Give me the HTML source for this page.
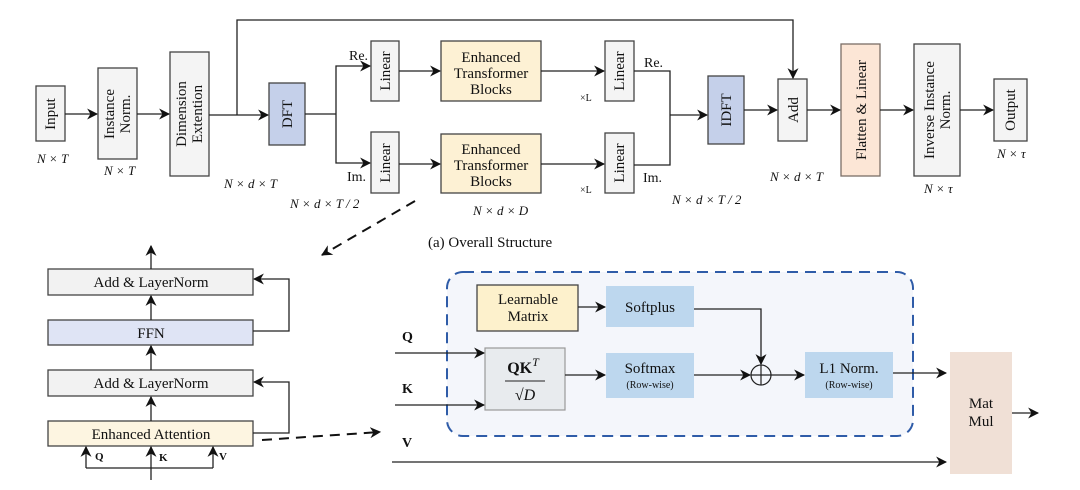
<!DOCTYPE html>
<html><head><meta charset="utf-8"><style>
html,body{margin:0;padding:0;background:#fff}
svg{display:block}
text{font-family:"Liberation Serif",serif;fill:#111}
.b{stroke:#444;stroke-width:1.3}
.l{stroke:#222;stroke-width:1.3;fill:none}
.it{font-style:italic;font-size:13px}
</style></head><body>
<svg width="1080" height="490" viewBox="0 0 1080 490" xmlns="http://www.w3.org/2000/svg">
<defs>
<marker id="a" viewBox="0 0 10 10" refX="9" refY="5" markerWidth="11" markerHeight="11" orient="auto" markerUnits="userSpaceOnUse"><path d="M0,0 L10,5 L0,10 L3,5 z" fill="#111"/></marker>
</defs>

<rect x="36" y="86" width="29" height="55" fill="#f4f4f4" class="b"/>
<text transform="translate(55,114) rotate(-90)" text-anchor="middle" font-size="15">Input</text>
<rect x="98" y="68" width="39" height="91" fill="#f4f4f4" class="b"/>
<text transform="translate(114,114) rotate(-90)" text-anchor="middle" font-size="15">Instance</text>
<text transform="translate(130,114) rotate(-90)" text-anchor="middle" font-size="15">Norm.</text>
<rect x="170" y="52" width="39" height="124" fill="#f4f4f4" class="b"/>
<text transform="translate(186,114) rotate(-90)" text-anchor="middle" font-size="15">Dimension</text>
<text transform="translate(202,114) rotate(-90)" text-anchor="middle" font-size="15">Extention</text>
<rect x="269" y="83" width="36" height="62" fill="#c5d0ea" class="b"/>
<text transform="translate(292,114) rotate(-90)" text-anchor="middle" font-size="15">DFT</text>

<rect x="371" y="41" width="28" height="60" fill="#f4f4f4" class="b"/>
<text transform="translate(390,71) rotate(-90)" text-anchor="middle" font-size="15">Linear</text>
<rect x="371" y="132" width="28" height="61" fill="#f4f4f4" class="b"/>
<text transform="translate(390,163) rotate(-90)" text-anchor="middle" font-size="15">Linear</text>

<rect x="441" y="41" width="100" height="60" fill="#fdf1d4" class="b"/>
<text x="491" y="62" text-anchor="middle" font-size="15">Enhanced</text>
<text x="491" y="78" text-anchor="middle" font-size="15">Transformer</text>
<text x="491" y="94" text-anchor="middle" font-size="15">Blocks</text>
<rect x="441" y="134" width="100" height="59" fill="#fdf1d4" class="b"/>
<text x="491" y="154" text-anchor="middle" font-size="15">Enhanced</text>
<text x="491" y="170" text-anchor="middle" font-size="15">Transformer</text>
<text x="491" y="186" text-anchor="middle" font-size="15">Blocks</text>
<text x="580" y="101" font-size="10">×L</text>
<text x="580" y="193" font-size="10">×L</text>

<rect x="605" y="41" width="29" height="60" fill="#f4f4f4" class="b"/>
<text transform="translate(624,71) rotate(-90)" text-anchor="middle" font-size="15">Linear</text>
<rect x="605" y="133" width="29" height="60" fill="#f4f4f4" class="b"/>
<text transform="translate(624,163) rotate(-90)" text-anchor="middle" font-size="15">Linear</text>

<rect x="708" y="76" width="36" height="68" fill="#c5d0ea" class="b"/>
<text transform="translate(731,110) rotate(-90)" text-anchor="middle" font-size="15">IDFT</text>
<rect x="778" y="79" width="29" height="62" fill="#f4f4f4" class="b"/>
<text transform="translate(798,110) rotate(-90)" text-anchor="middle" font-size="15">Add</text>
<rect x="841" y="44" width="39" height="132" fill="#fce6d6" stroke="#7a6e66" stroke-width="1.3"/>
<text transform="translate(866,110) rotate(-90)" text-anchor="middle" font-size="15">Flatten &amp; Linear</text>
<rect x="914" y="44" width="46" height="132" fill="#f4f4f4" class="b"/>
<text transform="translate(934,110) rotate(-90)" text-anchor="middle" font-size="15">Inverse Instance</text>
<text transform="translate(950,110) rotate(-90)" text-anchor="middle" font-size="15">Norm.</text>
<rect x="994" y="79" width="33" height="62" fill="#f4f4f4" class="b"/>
<text transform="translate(1015,110) rotate(-90)" text-anchor="middle" font-size="15">Output</text>

<line x1="65" y1="114" x2="97" y2="114" class="l" marker-end="url(#a)"/>
<line x1="137" y1="114" x2="169" y2="114" class="l" marker-end="url(#a)"/>
<line x1="209" y1="115" x2="268" y2="115" class="l" marker-end="url(#a)"/>
<polyline points="237,115 237,20 793,20 793,78" class="l" marker-end="url(#a)"/>
<line x1="305" y1="114" x2="336" y2="114" class="l"/>
<polyline points="336,114 336,66 370,66" class="l" marker-end="url(#a)"/>
<polyline points="336,114 336,163 370,163" class="l" marker-end="url(#a)"/>
<line x1="399" y1="71" x2="440" y2="71" class="l" marker-end="url(#a)"/>
<line x1="399" y1="164" x2="440" y2="164" class="l" marker-end="url(#a)"/>
<line x1="541" y1="71" x2="604" y2="71" class="l" marker-end="url(#a)"/>
<line x1="541" y1="164" x2="604" y2="164" class="l" marker-end="url(#a)"/>
<polyline points="634,71 670,71 670,165 634,165" class="l"/>
<line x1="670" y1="115" x2="707" y2="115" class="l" marker-end="url(#a)"/>
<line x1="744" y1="110" x2="777" y2="110" class="l" marker-end="url(#a)"/>
<line x1="807" y1="110" x2="840" y2="110" class="l" marker-end="url(#a)"/>
<line x1="880" y1="110" x2="913" y2="110" class="l" marker-end="url(#a)"/>
<line x1="960" y1="110" x2="993" y2="110" class="l" marker-end="url(#a)"/>

<text x="349" y="60" font-size="14">Re.</text>
<text x="347" y="181" font-size="14">Im.</text>
<text x="644" y="67" font-size="14">Re.</text>
<text x="643" y="182" font-size="14">Im.</text>

<text x="37" y="163" class="it">N × T</text>
<text x="104" y="175" class="it">N × T</text>
<text x="224" y="188" class="it">N × d × T</text>
<text x="290" y="208" class="it">N × d × T / 2</text>
<text x="473" y="215" class="it">N × d × D</text>
<text x="672" y="204" class="it">N × d × T / 2</text>
<text x="770" y="181" class="it">N × d × T</text>
<text x="924" y="193" class="it">N × τ</text>
<text x="997" y="158" class="it">N × τ</text>
<text x="428" y="247" font-size="15">(a) Overall Structure</text>

<line x1="415" y1="201" x2="322" y2="255" stroke="#111" stroke-width="2" stroke-dasharray="10,7" marker-end="url(#a)"/>
<line x1="262" y1="440" x2="380" y2="432" stroke="#111" stroke-width="2" stroke-dasharray="10,7" marker-end="url(#a)"/>

<rect x="48" y="269" width="205" height="26" fill="#f2f2f2" class="b"/>
<text x="151" y="287" text-anchor="middle" font-size="15">Add &amp; LayerNorm</text>
<rect x="48" y="320" width="205" height="25" fill="#dfe4f5" class="b"/>
<text x="151" y="338" text-anchor="middle" font-size="15">FFN</text>
<rect x="48" y="370" width="205" height="26" fill="#f2f2f2" class="b"/>
<text x="151" y="388" text-anchor="middle" font-size="15">Add &amp; LayerNorm</text>
<rect x="48" y="421" width="205" height="25" fill="#fdf5e1" class="b"/>
<text x="151" y="439" text-anchor="middle" font-size="15">Enhanced Attention</text>
<line x1="151" y1="269" x2="151" y2="246" class="l" marker-end="url(#a)"/>
<line x1="151" y1="320" x2="151" y2="296" class="l" marker-end="url(#a)"/>
<line x1="151" y1="370" x2="151" y2="346" class="l" marker-end="url(#a)"/>
<line x1="151" y1="421" x2="151" y2="397" class="l" marker-end="url(#a)"/>
<polyline points="253,331 289,331 289,279 254,279" class="l" marker-end="url(#a)"/>
<polyline points="253,433 289,433 289,382 254,382" class="l" marker-end="url(#a)"/>
<polyline points="86,468 213,468" class="l"/>
<line x1="151" y1="480" x2="151" y2="447" class="l" marker-end="url(#a)"/>
<line x1="86" y1="468" x2="86" y2="447" class="l" marker-end="url(#a)"/>
<line x1="213" y1="468" x2="213" y2="447" class="l" marker-end="url(#a)"/>
<text x="95" y="460" font-size="11" font-weight="bold">Q</text>
<text x="159" y="461" font-size="11" font-weight="bold">K</text>
<text x="219" y="460" font-size="11" font-weight="bold">V</text>

<rect x="447" y="272" width="466" height="164" rx="16" fill="#f4f6fb" stroke="#2f5ca8" stroke-width="2" stroke-dasharray="11,7"/>
<rect x="477" y="285" width="101" height="46" fill="#fdf1cc" class="b"/>
<text x="528" y="304" text-anchor="middle" font-size="15">Learnable</text>
<text x="528" y="321" text-anchor="middle" font-size="15">Matrix</text>
<rect x="606" y="286" width="88" height="41" fill="#bdd7ee"/>
<text x="650" y="312" text-anchor="middle" font-size="15">Softplus</text>
<rect x="485" y="348" width="80" height="62" fill="#e8ebee" stroke="#999" stroke-width="1.2"/>
<text x="523" y="373" text-anchor="middle" font-size="16" font-weight="bold">QK<tspan font-weight="normal" font-style="italic" font-size="12" dy="-7">T</tspan></text>
<line x1="505" y1="381" x2="545" y2="381" stroke="#222" stroke-width="1"/>
<text x="525" y="400" text-anchor="middle" font-size="16">√<tspan font-style="italic">D</tspan></text>
<rect x="606" y="353" width="88" height="45" fill="#bdd7ee"/>
<text x="650" y="373" text-anchor="middle" font-size="15">Softmax</text>
<text x="650" y="388" text-anchor="middle" font-size="10">(Row-wise)</text>
<circle cx="761" cy="375" r="10" fill="none" stroke="#222" stroke-width="1.2"/>
<line x1="751" y1="375" x2="771" y2="375" stroke="#222" stroke-width="1.2"/>
<line x1="761" y1="365" x2="761" y2="385" stroke="#222" stroke-width="1.2"/>
<rect x="805" y="352" width="88" height="46" fill="#bdd7ee"/>
<text x="849" y="373" text-anchor="middle" font-size="15">L1 Norm.</text>
<text x="849" y="388" text-anchor="middle" font-size="10">(Row-wise)</text>
<rect x="950" y="352" width="62" height="122" fill="#f0e0d6"/>
<text x="981" y="408" text-anchor="middle" font-size="15">Mat</text>
<text x="981" y="426" text-anchor="middle" font-size="15">Mul</text>

<line x1="578" y1="307" x2="605" y2="307" class="l" marker-end="url(#a)"/>
<polyline points="694,309 761,309 761,364" class="l" marker-end="url(#a)"/>
<line x1="565" y1="375" x2="605" y2="375" class="l" marker-end="url(#a)"/>
<line x1="694" y1="375" x2="750" y2="375" class="l" marker-end="url(#a)"/>
<line x1="771" y1="375" x2="804" y2="375" class="l" marker-end="url(#a)"/>
<line x1="893" y1="373" x2="946" y2="373" class="l" marker-end="url(#a)"/>
<line x1="1012" y1="413" x2="1038" y2="413" class="l" marker-end="url(#a)"/>
<line x1="395" y1="353" x2="484" y2="353" class="l" marker-end="url(#a)"/>
<line x1="395" y1="405" x2="484" y2="405" class="l" marker-end="url(#a)"/>
<line x1="392" y1="462" x2="946" y2="462" class="l" marker-end="url(#a)"/>
<text x="402" y="341" font-size="14" font-weight="bold">Q</text>
<text x="402" y="393" font-size="14" font-weight="bold">K</text>
<text x="402" y="447" font-size="14" font-weight="bold">V</text>
</svg>
</body></html>
